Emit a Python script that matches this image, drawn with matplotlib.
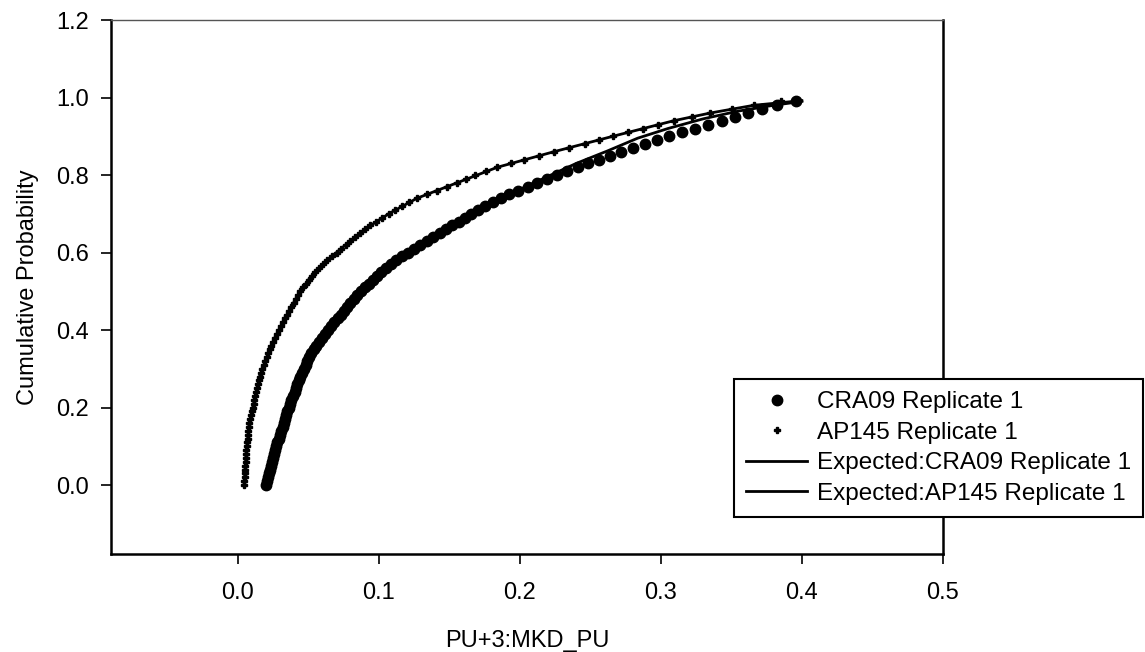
import matplotlib
matplotlib.use("Agg")
import matplotlib.pyplot as plt

plt.rcParams['font.family'] = ['Liberation Sans', 'DejaVu Sans']

cra_x = [0.0200, 0.0206, 0.0212, 0.0219, 0.0226, 0.0233, 0.0241, 0.0249, 0.0257, 0.0265,
         0.0273, 0.0281, 0.0290, 0.0299, 0.0308, 0.0317, 0.0326, 0.0335, 0.0344, 0.0352,
         0.0360, 0.0370, 0.0380, 0.0391, 0.0402, 0.0412, 0.0422, 0.0432, 0.0443, 0.0455,
         0.0467, 0.0480, 0.0493, 0.0507, 0.0522, 0.0538, 0.0555, 0.0575, 0.0595, 0.0617,
         0.0640, 0.0662, 0.0685, 0.0707, 0.0730, 0.0752, 0.0775, 0.0798, 0.0822, 0.0848,
         0.0875, 0.0901, 0.0928, 0.0956, 0.0985, 0.1017, 0.1050, 0.1085, 0.1120, 0.1165,
         0.1210, 0.1252, 0.1295, 0.1340, 0.1385, 0.1430, 0.1475, 0.1520, 0.1565, 0.1610,
         0.1655, 0.1705, 0.1755, 0.1810, 0.1865, 0.1925, 0.1990, 0.2055, 0.2120, 0.2190,
         0.2260, 0.2335, 0.2410, 0.2485, 0.2560, 0.2640, 0.2720, 0.2805, 0.2890, 0.2975,
         0.3060, 0.3150, 0.3240, 0.3335, 0.3430, 0.3525, 0.3620, 0.3720, 0.3820, 0.3960]
cra_y = [0.00, 0.01, 0.02, 0.03, 0.04, 0.05, 0.06, 0.07, 0.08, 0.09,
         0.10, 0.11, 0.12, 0.13, 0.14, 0.15, 0.16, 0.17, 0.18, 0.19,
         0.20, 0.21, 0.22, 0.23, 0.24, 0.25, 0.26, 0.27, 0.28, 0.29,
         0.30, 0.31, 0.32, 0.33, 0.34, 0.35, 0.36, 0.37, 0.38, 0.39,
         0.40, 0.41, 0.42, 0.43, 0.44, 0.45, 0.46, 0.47, 0.48, 0.49,
         0.50, 0.51, 0.52, 0.53, 0.54, 0.55, 0.56, 0.57, 0.58, 0.59,
         0.60, 0.61, 0.62, 0.63, 0.64, 0.65, 0.66, 0.67, 0.68, 0.69,
         0.70, 0.71, 0.72, 0.73, 0.74, 0.75, 0.76, 0.77, 0.78, 0.79,
         0.80, 0.81, 0.82, 0.83, 0.84, 0.85, 0.86, 0.87, 0.88, 0.89,
         0.90, 0.91, 0.92, 0.93, 0.94, 0.95, 0.96, 0.97, 0.98, 0.99]

# Observed cumulative distribution, AP145 replicate 1
ap_x = [0.0045, 0.0046, 0.0048, 0.0049, 0.0051, 0.0053, 0.0055, 0.0057, 0.0059, 0.0061,
        0.0064, 0.0066, 0.0069, 0.0071, 0.0074, 0.0078, 0.0082, 0.0087, 0.0093, 0.0099,
        0.0106, 0.0112, 0.0118, 0.0124, 0.0130, 0.0136, 0.0142, 0.0148, 0.0154, 0.0162,
        0.0172, 0.0183, 0.0195, 0.0205, 0.0215, 0.0225, 0.0235, 0.0248, 0.0262, 0.0276,
        0.0290, 0.0305, 0.0320, 0.0335, 0.0350, 0.0365, 0.0380, 0.0395, 0.0410, 0.0425,
        0.0442, 0.0460, 0.0480, 0.0502, 0.0525, 0.0550, 0.0577, 0.0605, 0.0635, 0.0667,
        0.0700, 0.0732, 0.0765, 0.0797, 0.0830, 0.0865, 0.0900, 0.0940, 0.0980, 0.1025,
        0.1070, 0.1117, 0.1165, 0.1215, 0.1270, 0.1340, 0.1415, 0.1485, 0.1555, 0.1615,
        0.1680, 0.1760, 0.1840, 0.1935, 0.2030, 0.2135, 0.2240, 0.2350, 0.2460, 0.2560,
        0.2660, 0.2765, 0.2870, 0.2980, 0.3090, 0.3220, 0.3350, 0.3505, 0.3660, 0.3850]
ap_y = [0.00, 0.01, 0.02, 0.03, 0.04, 0.05, 0.06, 0.07, 0.08, 0.09,
        0.10, 0.11, 0.12, 0.13, 0.14, 0.15, 0.16, 0.17, 0.18, 0.19,
        0.20, 0.21, 0.22, 0.23, 0.24, 0.25, 0.26, 0.27, 0.28, 0.29,
        0.30, 0.31, 0.32, 0.33, 0.34, 0.35, 0.36, 0.37, 0.38, 0.39,
        0.40, 0.41, 0.42, 0.43, 0.44, 0.45, 0.46, 0.47, 0.48, 0.49,
        0.50, 0.51, 0.52, 0.53, 0.54, 0.55, 0.56, 0.57, 0.58, 0.59,
        0.60, 0.61, 0.62, 0.63, 0.64, 0.65, 0.66, 0.67, 0.68, 0.69,
        0.70, 0.71, 0.72, 0.73, 0.74, 0.75, 0.76, 0.77, 0.78, 0.79,
        0.80, 0.81, 0.82, 0.83, 0.84, 0.85, 0.86, 0.87, 0.88, 0.89,
        0.90, 0.91, 0.92, 0.93, 0.94, 0.95, 0.96, 0.97, 0.98, 0.99]

# Fitted (expected) distributions
exp_cra_x = [0.0200, 0.0226, 0.0257, 0.0290, 0.0326, 0.0360, 0.0412, 0.0467, 0.0538,
             0.0640, 0.0752, 0.0875, 0.1017, 0.1210, 0.1430, 0.1655, 0.1925, 0.2220,
             0.2400, 0.2620, 0.2835, 0.3050, 0.3300, 0.3550, 0.3800, 0.4000]
exp_cra_y = [0.000, 0.040, 0.080, 0.120, 0.160, 0.200, 0.250, 0.300, 0.350,
             0.400, 0.450, 0.500, 0.550, 0.600, 0.650, 0.700, 0.750, 0.800,
             0.830, 0.862, 0.895, 0.920, 0.945, 0.965, 0.980, 0.990]

exp_ap_x = [0.0045, 0.0059, 0.0082, 0.0118, 0.0154, 0.0195, 0.0262, 0.0320, 0.0410,
            0.0502, 0.0635, 0.0765, 0.0900, 0.1070, 0.1270, 0.1555, 0.1840, 0.2240,
            0.2660, 0.3090, 0.3350, 0.3660, 0.4000]
exp_ap_y = [0.000, 0.080, 0.160, 0.220, 0.280, 0.320, 0.380, 0.420, 0.480,
            0.530, 0.580, 0.620, 0.660, 0.700, 0.740, 0.780, 0.820, 0.860,
            0.900, 0.940, 0.960, 0.980, 0.992]

x_ticks = [0.0, 0.1, 0.2, 0.3, 0.4, 0.5]
y_ticks = [0.0, 0.2, 0.4, 0.6, 0.8, 1.0, 1.2]


def main():
    fig = plt.figure(figsize=(11.45, 6.52), dpi=100)
    ax = fig.add_axes([0.0969, 0.1503, 0.7266, 0.8190])

    # expected curves first, data markers drawn over them
    ax.plot(exp_cra_x, exp_cra_y, color='black', lw=2.0,
            label='Expected:CRA09 Replicate 1', zorder=2)
    ax.plot(exp_ap_x, exp_ap_y, color='black', lw=2.0,
            label='Expected:AP145 Replicate 1', zorder=2)
    ax.plot(cra_x, cra_y, ls='none', marker='o', ms=7.5, color='black',
            label='CRA09 Replicate 1', zorder=3)
    ax.plot(ap_x, ap_y, ls='none', marker='P', ms=4.5, color='black',
            label='AP145 Replicate 1', zorder=3)

    ax.set_xlim(-0.09, 0.5)
    ax.set_ylim(-0.178, 1.2)
    ax.set_xticks(x_ticks)
    ax.set_yticks(y_ticks)
    ax.set_xticklabels([f"{v:.1f}" for v in x_ticks])
    ax.set_yticklabels([f"{v:.1f}" for v in y_ticks])
    ax.tick_params(direction='out', length=7, width=1.2, labelsize=17, color='black')
    ax.tick_params(axis='x', pad=13.5)
    ax.tick_params(axis='y', pad=9)

    for side in ['left', 'bottom', 'right']:
        ax.spines[side].set_linewidth(1.8)
    ax.spines['top'].set_linewidth(1.0)
    ax.spines['top'].set_color('#555555')

    ax.set_xlabel("PU+3:MKD_PU", fontsize=17, labelpad=18.5)
    ax.set_ylabel("Cumulative Probability", fontsize=17, labelpad=12)

    handles, labels = ax.get_legend_handles_labels()
    order = [2, 3, 0, 1]
    leg = ax.legend([handles[i] for i in order], [labels[i] for i in order],
                    loc='lower left', bbox_to_anchor=(0.749, 0.069),
                    fontsize=17.5, frameon=True, fancybox=False, framealpha=1,
                    edgecolor='black', handlelength=2.5, handletextpad=0.4,
                    labelspacing=0.35, borderpad=0.5, borderaxespad=0)
    leg.get_frame().set_linewidth(1.5)
    leg.set_clip_on(False)

    fig.savefig("out.png", dpi=100)


if __name__ == "__main__":
    main()
